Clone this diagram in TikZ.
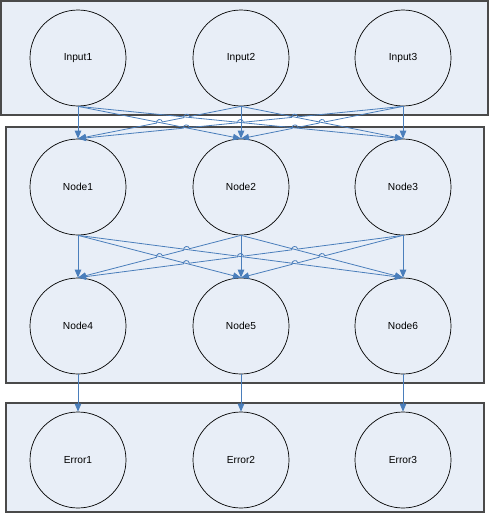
\documentclass[tikz,border=0pt]{standalone}
\usepackage{fontspec}
\setmainfont{Liberation Sans}
\usetikzlibrary{arrows.meta, calc}
\definecolor{layerfill}{HTML}{E8EEF7}
\definecolor{linkblue}{HTML}{4A7EBB}
\definecolor{frame}{HTML}{4A4A4A}

% a small jump of a link over another one, at fraction #3 of the way from #1 to #2
\newcommand\hop[3]{-- ($(#1)!#3!(#2)!3pt!(#1)$)
  .. controls ($(#1)!#3!(#2)!3pt!(#1)!4pt!90:(#1)$)
  and ($(#1)!#3!(#2)!3pt!(#2)!4pt!-90:(#2)$)
  .. ($(#1)!#3!(#2)!3pt!(#2)$)}

\begin{document}
\begin{tikzpicture}[x=1pt, y=-1pt,
      layer/.style={draw=frame, line width=1.4pt, fill=layerfill},
      unit/.style={circle, draw=black, line width=0.7pt,
        minimum size=96pt, inner sep=0pt, text=black,
        font=\fontsize{10.2}{12}\selectfont},
      link/.style={-{Triangle[length=8pt, width=6.5pt]}, linkblue,
        line width=0.8pt}]
    \useasboundingbox (0,0) rectangle (490,514);
    % layers
    \draw[layer] (1,1) rectangle (488,115);
    \draw[layer] (6,127) rectangle (484,383);
    \draw[layer] (6,403) rectangle (484,512);
    % units
    \foreach \i/\x in {1/78, 2/241, 3/403} {
      \node[unit] (in\i) at (\x,58) {Input\i};
      \node[unit] (a\i) at (\x,187) {Node\i};
      \node[unit] (e\i) at (\x,460) {Error\i};
    }
    \node[unit] (b1) at (78,326) {Node4};
    \node[unit] (b2) at (241,326) {Node5};
    \node[unit] (b3) at (403,326) {Node6};
    % links
    \foreach \s/\t in {in/a, a/b} {
      \foreach \p/\q in {1/1, 1/2, 1/3, 2/2, 2/3, 3/3}
        \draw[link] (\s\p.south) -- (\t\q.north);
      \draw[link] (\s2.south) \hop{\s2.south}{\t1.north}{0.3333}
        \hop{\s2.south}{\t1.north}{0.5} -- (\t1.north);
      \draw[link] (\s3.south) \hop{\s3.south}{\t1.north}{0.3333}
        \hop{\s3.south}{\t1.north}{0.5}
        \hop{\s3.south}{\t1.north}{0.6667} -- (\t1.north);
      \draw[link] (\s3.south) \hop{\s3.south}{\t2.north}{0.5}
        \hop{\s3.south}{\t2.north}{0.6667} -- (\t2.north);
    }
    \foreach \i in {1,2,3}
      \draw[link] (b\i.south) -- (e\i.north);
  \end{tikzpicture}
\end{document}
